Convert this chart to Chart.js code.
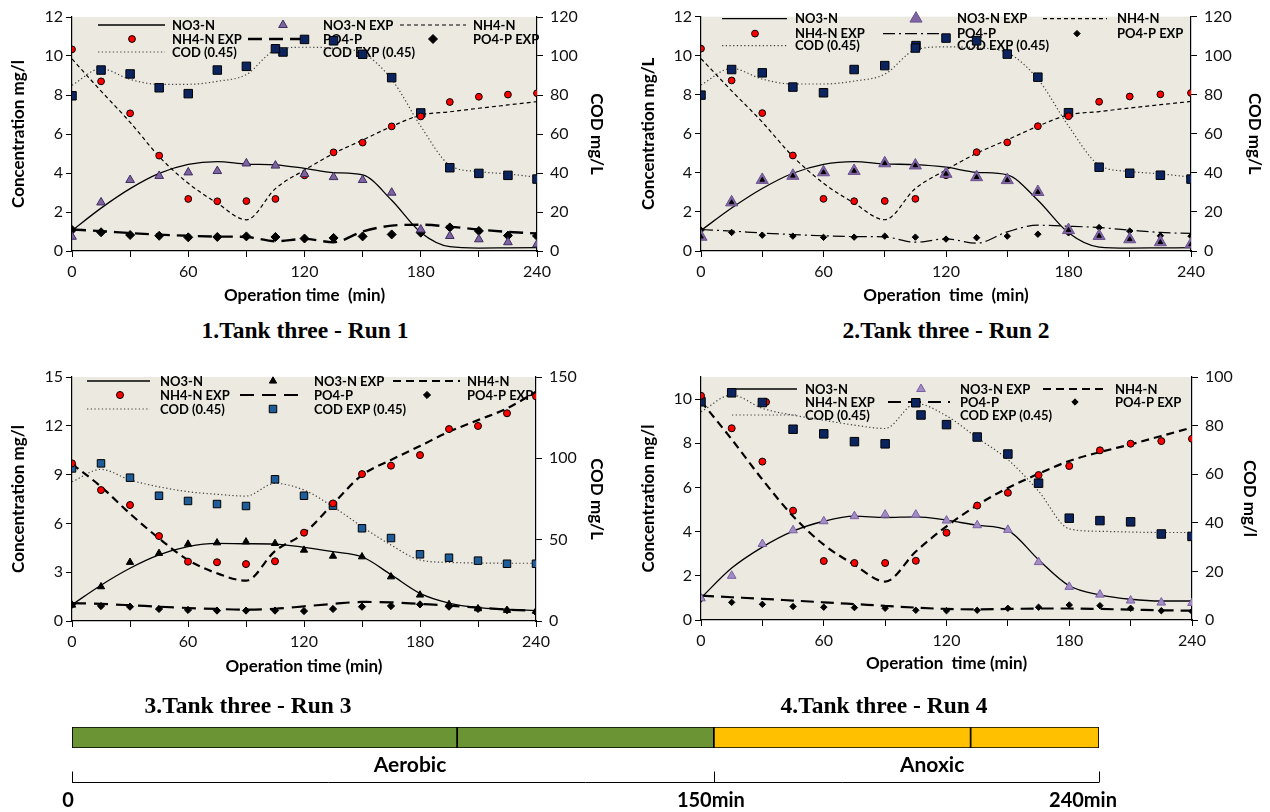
<!DOCTYPE html>
<html>
<head>
<meta charset="utf-8">
<script src="https://cdn.jsdelivr.net/npm/chart.js@4.4.0/dist/chart.umd.min.js"></script>
<style>
  body { margin: 0; background: #fff; width: 1270px; height: 812px; position: relative; overflow: hidden; }
  .box { position: absolute; }
  .cap { position: absolute; width: 400px; text-align: center; font: bold 23.5px "Liberation Serif", serif; color: #000; line-height: 26px; }
</style>
</head>
<body>
<div class="box" style="left:0;top:0"><canvas id="run1" width="620" height="315"></canvas></div>
<div class="box" style="left:630px;top:0"><canvas id="run2" width="640" height="315"></canvas></div>
<div class="box" style="left:0;top:360px"><canvas id="run3" width="620" height="320"></canvas></div>
<div class="box" style="left:630px;top:360px"><canvas id="run4" width="640" height="320"></canvas></div>
<div class="box" style="left:0;top:715px"><canvas id="phases" width="1270" height="97"></canvas></div>

<div class="cap" style="left:105px;top:317px">1.Tank three - Run 1</div>
<div class="cap" style="left:746px;top:317px">2.Tank three - Run 2</div>
<div class="cap" style="left:48px;top:692px">3.Tank three - Run 3</div>
<div class="cap" style="left:684px;top:692px">4.Tank three - Run 4</div>

<script>
// sampling times (min)
const timeMin = [0, 15, 30, 45, 60, 75, 90, 105, 120, 135, 150, 165, 180, 195, 210, 225, 240];

// Run 1 - measured
const run1NO3Exp = [0.73, 2.49, 3.64, 3.85, 4.03, 4.10, 4.49, 4.38, 3.95, 3.79, 3.64, 2.99, 1.10, 0.77, 0.60, 0.45, 0.34];
const run1NH4Exp = [10.34, 8.70, 7.06, 4.89, 2.67, 2.55, 2.56, 2.67, 3.88, 5.06, 5.56, 6.39, 6.90, 7.64, 7.91, 8.02, 8.09];
const run1PO4Exp = [1.08, 0.96, 0.82, 0.78, 0.70, 0.72, 0.75, 0.72, 0.64, 0.67, 0.75, 0.85, 0.94, 1.21, 1.03, 0.79, 0.77];
const run1CODExp = [79.6, 92.8, 90.8, 83.7, 80.7, 92.8, 94.7, 103.7, 108.5, 107.8, 100.9, 88.9, 70.8, 42.7, 39.8, 38.8, 36.9];
// Run 1 - model
const run1NO3 = [1.05, 2.2, 3.2, 3.98, 4.44, 4.58, 4.46, 4.42, 4.24, 4.02, 3.9, 2.6, 0.95, 0.22, 0.15, 0.16, 0.17];
const run1NH4 = [9.85, 8.2, 6.6, 4.84, 3.47, 2.45, 1.6, 3.2, 4.15, 5.0, 5.69, 6.39, 6.97, 7.14, 7.32, 7.49, 7.66];
const run1PO4 = [1.1, 1.02, 0.92, 0.84, 0.78, 0.74, 0.72, 0.5, 0.62, 0.45, 1.0, 1.3, 1.35, 1.25, 1.1, 0.98, 0.9];
const run1COD = [85, 93.5, 88, 85.5, 85.5, 87, 90.5, 103, 104.5, 104, 101.5, 88, 64, 44, 40.7, 39.5, 37.8];

// Run 2 - measured
const run2NO3Exp = [0.73, 2.49, 3.64, 3.85, 4.03, 4.10, 4.49, 4.38, 3.95, 3.78, 3.63, 3.02, 1.07, 0.77, 0.60, 0.45, 0.34];
const run2NH4Exp = [10.36, 8.73, 7.06, 4.89, 2.67, 2.55, 2.56, 2.67, 3.88, 5.06, 5.56, 6.39, 6.90, 7.64, 7.91, 8.02, 8.09];
const run2PO4Exp = [1.07, 0.95, 0.81, 0.76, 0.70, 0.71, 0.76, 0.71, 0.61, 0.68, 0.76, 0.86, 0.93, 1.20, 1.02, 0.78, 0.76];
const run2CODExp = [79.8, 92.9, 91.2, 83.9, 81.0, 92.9, 94.9, 103.9, 109.0, 107.6, 100.8, 89.0, 70.8, 42.9, 39.8, 38.8, 36.8];
// Run 2 - model
const run2NO3 = [1.05, 2.2, 3.2, 3.98, 4.44, 4.58, 4.46, 4.42, 4.29, 4.03, 3.9, 2.6, 0.93, 0.2, 0.15, 0.16, 0.17];
const run2NH4 = [9.85, 8.2, 6.6, 4.84, 3.47, 2.45, 1.6, 3.2, 4.15, 5.0, 5.69, 6.39, 6.97, 7.14, 7.32, 7.49, 7.66];
const run2PO4 = [1.1, 1.02, 0.92, 0.84, 0.78, 0.74, 0.72, 0.45, 0.62, 0.4, 0.98, 1.32, 1.27, 1.2, 1.07, 0.95, 0.9];
const run2COD = [85, 93.5, 88, 85.5, 85.5, 87, 90.5, 103, 104.5, 104, 101.5, 88, 64, 44, 40.7, 39.5, 37.8];

// Run 3 - measured
const run3NO3Exp = [0.98, 2.11, 3.61, 4.16, 4.73, 4.81, 4.87, 4.77, 4.36, 3.99, 3.95, 2.72, 1.6, 1.02, 0.76, 0.66, 0.6];
const run3NH4Exp = [9.69, 8.05, 7.13, 5.22, 3.65, 3.61, 3.50, 3.67, 5.43, 7.23, 9.03, 9.55, 10.2, 11.8, 11.99, 12.77, 13.81];
const run3PO4Exp = [1.0, 0.92, 0.88, 0.74, 0.68, 0.64, 0.64, 0.64, 0.61, 0.74, 0.88, 0.92, 1.02, 0.88, 0.74, 0.66, 0.53];
const run3CODExp = [93.8, 96.9, 88.1, 77.0, 73.8, 71.9, 70.7, 87.1, 77.0, 70.9, 57.0, 51.0, 41.0, 38.9, 37.1, 35.2, 35.2];
// Run 3 - model
const run3NO3 = [1.0, 2.2, 3.24, 4.06, 4.57, 4.77, 4.75, 4.73, 4.53, 4.26, 3.95, 2.85, 1.7, 1.1, 0.82, 0.72, 0.64];
const run3NH4 = [9.65, 8.26, 6.6, 5.08, 3.75, 2.93, 2.48, 4.3, 5.39, 7.2, 8.97, 9.9, 10.76, 11.63, 12.35, 13.07, 14.09];
const run3PO4 = [1.1, 1.05, 0.97, 0.88, 0.8, 0.74, 0.7, 0.75, 0.9, 1.05, 1.17, 1.15, 1.05, 0.95, 0.82, 0.7, 0.62];
const run3COD = [85.6, 93.2, 86.7, 82.5, 79.5, 77.9, 76.8, 84.6, 80.5, 70.3, 58, 46.7, 37.5, 36, 35.7, 35.5, 35.5];

// Run 4 - measured
const run4NO3Exp = [0.98, 2.0, 3.44, 4.06, 4.47, 4.70, 4.77, 4.77, 4.5, 4.29, 4.08, 2.62, 1.5, 1.15, 0.88, 0.79, 0.77];
const run4NH4Exp = [10.15, 8.68, 7.17, 4.95, 2.67, 2.58, 2.58, 2.68, 3.95, 5.18, 5.76, 6.56, 6.97, 7.68, 7.98, 8.1, 8.2];
const run4PO4Exp = [0.95, 0.8, 0.71, 0.61, 0.58, 0.56, 0.53, 0.44, 0.42, 0.44, 0.53, 0.58, 0.68, 0.65, 0.53, 0.42, 0.39];
const run4CODExp = [89.8, 93.5, 89.5, 78.5, 76.6, 73.4, 72.5, 89.4, 80.4, 75.3, 68.3, 56.3, 41.9, 40.9, 40.4, 35.4, 34.4];
// Run 4 - model
const run4NO3 = [1.0, 2.35, 3.3, 4.02, 4.47, 4.7, 4.64, 4.67, 4.52, 4.29, 4.06, 2.73, 1.55, 1.14, 0.94, 0.86, 0.86];
const run4NH4 = [9.9, 8.18, 6.36, 4.7, 3.41, 2.5, 1.74, 3.1, 4.24, 5.2, 5.98, 6.62, 7.2, 7.6, 7.95, 8.33, 8.71];
const run4PO4 = [1.1, 1.03, 0.96, 0.88, 0.8, 0.72, 0.64, 0.56, 0.5, 0.48, 0.5, 0.52, 0.52, 0.5, 0.47, 0.44, 0.42];
const run4COD = [85.7, 92.6, 87.1, 84.3, 82.2, 80.2, 78.8, 89.1, 84, 75, 66, 53, 37.5, 36.5, 36.2, 36, 36];

// operating phases (min)
const phaseNames = ['Aerobic', 'Aerobic', 'Anoxic', 'Anoxic'];
const phaseStart = [0, 90, 150, 210];
const phaseEnd = [90, 150, 210, 240];
const phaseMarks = [0, 150, 240];
const phaseMarkLabels = ['0', '150min', '240min'];

Chart.defaults.font.family = 'Lato';
Chart.defaults.color = '#111';

const pts = vals => vals.map((y, i) => ({ x: timeMin[i], y }));

const plotBg = {
  id: 'plotBg',
  beforeDraw(chart) {
    const { ctx, chartArea: a } = chart;
    ctx.save();
    ctx.fillStyle = '#ECEAE0';
    ctx.fillRect(a.left, a.top, a.right - a.left, a.bottom - a.top);
    ctx.restore();
  }
};

// legend drawn inside the plot, three columns like the original
const boxLegend = {
  id: 'boxLegend',
  beforeDatasetsDraw(chart, args, o) {
    const { ctx, chartArea: a } = chart;
    ctx.save();
    o.items.forEach(it => {
      const ds = chart.data.datasets.find(d => d.label === it.label);
      const col = o.cols[it.col];
      const y = a.top + o.rows[it.row];
      if (it.line) {
        ctx.save();
        ctx.strokeStyle = ds.borderColor;
        ctx.lineWidth = ds.borderWidth;
        ctx.setLineDash(ds.borderDash || []);
        ctx.beginPath();
        ctx.moveTo(a.left + col[0], y);
        ctx.lineTo(a.left + col[1], y);
        ctx.stroke();
        ctx.restore();
      } else {
        ctx.save();
        ctx.fillStyle = ds.pointBackgroundColor;
        ctx.strokeStyle = ds.pointBorderColor;
        ctx.lineWidth = ds.pointBorderWidth;
        Chart.helpers.drawPoint(ctx, { pointStyle: ds.pointStyle, radius: ds.pointRadius, rotation: 0, borderWidth: ds.pointBorderWidth }, a.left + col[2], y);
        ctx.restore();
      }
      ctx.fillStyle = '#000';
      ctx.font = 'bold 13px Lato';
      ctx.textBaseline = 'middle';
      ctx.fillText(it.label, a.left + col[3], y + 0.5);
    });
    ctx.restore();
  }
};

const legendItems = [
  { label: 'NO3-N', row: 0, col: 0, line: true },
  { label: 'NO3-N EXP', row: 0, col: 1 },
  { label: 'NH4-N', row: 0, col: 2, line: true },
  { label: 'NH4-N EXP', row: 1, col: 0 },
  { label: 'PO4-P', row: 1, col: 1, line: true },
  { label: 'PO4-P EXP', row: 1, col: 2 },
  { label: 'COD (0.45)', row: 2, col: 0, line: true },
  { label: 'COD EXP (0.45)', row: 2, col: 1 }
];

function marker(label, vals, axis, style, r, fill, edge, order) {
  return {
    label, data: pts(vals), yAxisID: axis, showLine: false, order: order === undefined ? 0 : order,
    pointStyle: style, pointRadius: r, pointBackgroundColor: fill, pointBorderColor: edge, pointBorderWidth: 1,
    pointHoverRadius: r
  };
}

function curve(label, vals, axis, color, width, dash) {
  return {
    label, data: pts(vals), yAxisID: axis, order: 2,
    borderColor: color, borderWidth: width, borderDash: dash, pointRadius: 0,
    cubicInterpolationMode: 'monotone', fill: false
  };
}

function yAxis(pos, min, max, step, width, title, pad, tickPad) {
  return {
    position: pos, min, max,
    ticks: { stepSize: step, font: { size: 16 }, padding: tickPad, color: '#111' },
    grid: { drawOnChartArea: false, color: '#000', tickLength: 6 },
    border: { color: '#000', width: 1.2 },
    title: { display: true, text: title, color: '#000', font: { size: 17, weight: 'bold' }, padding: { top: pad, bottom: 0 } },
    afterFit: s => { s.width = width; }
  };
}

function xAxis(height, title, pad) {
  return {
    type: 'linear', min: 0, max: 240,
    ticks: { stepSize: 30, autoSkip: false, maxRotation: 0, font: { size: 16 }, padding: 5, color: '#111',
      callback: v => (v % 60 === 0 ? v : '') },
    grid: { drawOnChartArea: false, color: '#000', tickLength: 6 },
    border: { color: '#000', width: 1.2 },
    title: { display: true, text: title, color: '#000', font: { size: 17, weight: 'bold' }, padding: { top: 0, bottom: pad } },
    afterFit: s => { s.height = height; }
  };
}

function drawRun(id, datasets, g) {
  const yLeft = yAxis('left', 0, g.yMax, g.yStep, g.leftW, g.yTitle, g.leftPad, 3);
  if (g.yTicks) yLeft.afterBuildTicks = s => { s.ticks = g.yTicks.map(v => ({ value: v })); };
  new Chart(document.getElementById(id), {
    type: 'line',
    data: { datasets },
    options: {
      responsive: false, animation: false, events: [],
      layout: { padding: { top: g.top, left: 0, right: 0, bottom: 0 } },
      scales: {
        x: xAxis(g.xH, g.xTitle, g.xPad),
        y: yLeft,
        y1: yAxis('right', 0, g.codMax, g.codStep, g.rightW, g.codTitle, g.rightPad, 7)
      },
      plugins: {
        legend: { display: false }, tooltip: { enabled: false },
        boxLegend: { items: legendItems, rows: g.rows, cols: g.cols }
      }
    },
    plugins: [plotBg, boxLegend]
  });
}

// Run 1
drawRun('run1', [
  marker('NO3-N EXP', run1NO3Exp, 'y', 'triangle', 5, '#7F63A1', '#3B2F5E'),
  marker('NH4-N EXP', run1NH4Exp, 'y', 'circle', 3.4, '#FF0000', '#000'),
  marker('PO4-P EXP', run1PO4Exp, 'y', 'rectRot', 4.5, '#000', '#000'),
  marker('COD EXP (0.45)', run1CODExp, 'y1', 'rect', 6, '#0B2460', '#000'),
  curve('NO3-N', run1NO3, 'y', '#000', 1.3, []),
  curve('NH4-N', run1NH4, 'y', '#000', 1.2, [4, 3]),
  curve('PO4-P', run1PO4, 'y', '#000', 2.4, [14, 7]),
  curve('COD (0.45)', run1COD, 'y1', '#444', 1.2, [1.3, 2.4])
], { top: 17, leftW: 72, rightW: 83, xH: 64, yMax: 12, yStep: 2, codMax: 120, codStep: 20,
  yTitle: 'Concentration mg/l', codTitle: 'COD mg/L', xTitle: 'Operation time  (min)',
  leftPad: 8, rightPad: 13, xPad: 9, rows: [8, 22, 35],
  cols: [[26, 93, 60, 100], [176, 236, 211, 251], [328, 394, 361, 401]] });

// Run 2
drawRun('run2', [
  marker('NO3-N EXP core', run2NO3Exp, 'y', 'triangle', 2.6, '#000', '#000', -1),
  marker('NO3-N EXP', run2NO3Exp, 'y', 'triangle', 7, '#8064A2', '#6A5290'),
  marker('NH4-N EXP', run2NH4Exp, 'y', 'circle', 3.4, '#FF0000', '#000'),
  marker('PO4-P EXP', run2PO4Exp, 'y', 'rectRot', 3.2, '#000', '#000'),
  marker('COD EXP (0.45)', run2CODExp, 'y1', 'rect', 6, '#0B2460', '#000'),
  curve('NO3-N', run2NO3, 'y', '#000', 1.3, []),
  curve('NH4-N', run2NH4, 'y', '#000', 1.2, [4, 3]),
  curve('PO4-P', run2PO4, 'y', '#000', 1.2, [12, 4, 2, 4]),
  curve('COD (0.45)', run2COD, 'y1', '#444', 1.2, [1.3, 2.4])
], { top: 15, leftW: 71, rightW: 79, xH: 64, yMax: 12, yStep: 2, codMax: 120, codStep: 20,
  yTitle: 'Concentration mg/L', codTitle: 'COD mg/L', xTitle: 'Operation  time  (min)',
  leftPad: 8, rightPad: 5, xPad: 9, rows: [2, 17, 29],
  cols: [[21, 86, 54, 94], [182, 239, 215, 256], [342, 406, 376, 416]] });

// Run 3
drawRun('run3', [
  marker('NO3-N EXP', run3NO3Exp, 'y', 'triangle', 4.2, '#000', '#000'),
  marker('NH4-N EXP', run3NH4Exp, 'y', 'circle', 3.5, '#FF0000', '#000'),
  marker('PO4-P EXP', run3PO4Exp, 'y', 'rectRot', 3.6, '#000', '#000'),
  marker('COD EXP (0.45)', run3CODExp, 'y1', 'rect', 5.3, '#1F5C9A', '#000'),
  curve('NO3-N', run3NO3, 'y', '#000', 1.3, []),
  curve('NH4-N', run3NH4, 'y', '#000', 2.2, [8, 5]),
  curve('PO4-P', run3PO4, 'y', '#000', 2.2, [14, 8]),
  curve('COD (0.45)', run3COD, 'y1', '#444', 1.2, [1.3, 2.4])
], { top: 17, leftW: 72, rightW: 84, xH: 59, yMax: 15, yStep: 3, codMax: 150, codStep: 50,
  yTitle: 'Concentration mg/l', codTitle: 'COD mg/L', xTitle: 'Operation time (min)',
  leftPad: 8, rightPad: 13, xPad: 3, rows: [4, 18, 32],
  cols: [[15, 78, 48, 88], [168, 228, 201, 242], [321, 388, 355, 395]] });

// Run 4
drawRun('run4', [
  marker('NO3-N EXP', run4NO3Exp, 'y', 'triangle', 5, '#A18DC4', '#7A5FA3'),
  marker('NH4-N EXP', run4NH4Exp, 'y', 'circle', 3.5, '#FF0000', '#000'),
  marker('PO4-P EXP', run4PO4Exp, 'y', 'rectRot', 3.2, '#000', '#000'),
  marker('COD EXP (0.45)', run4CODExp, 'y1', 'rect', 6, '#0B2460', '#000'),
  curve('NO3-N', run4NO3, 'y', '#000', 1.3, []),
  curve('NH4-N', run4NH4, 'y', '#000', 2.2, [8, 5]),
  curve('PO4-P', run4PO4, 'y', '#000', 2.2, [13, 7]),
  curve('COD (0.45)', run4COD, 'y1', '#444', 1.2, [1.3, 2.4])
], { top: 17, leftW: 71, rightW: 78, xH: 60, yMax: 11, yStep: 2, yTicks: [0, 2, 4, 6, 8, 10], codMax: 100, codStep: 20,
  yTitle: 'Concentration mg/l', codTitle: 'COD mg/l', xTitle: 'Operation  time (min)',
  leftPad: 8, rightPad: 10, xPad: 6, rows: [12, 25, 38],
  cols: [[31, 96, 65, 104], [187, 249, 220, 259], [342, 406, 374, 414]] });

// phase bar with its time bracket
const phaseColors = { Aerobic: '#6B9535', Anoxic: '#FFC000' };
const phaseScale = {
  id: 'phaseScale',
  afterDraw(chart, args, o) {
    const { ctx, chartArea: a, scales: { x } } = chart;
    const yl = a.bottom + 34.5;
    ctx.save();
    ctx.strokeStyle = '#000';
    ctx.lineWidth = 1;
    ctx.beginPath();
    ctx.moveTo(x.getPixelForValue(phaseMarks[0]), yl);
    ctx.lineTo(x.getPixelForValue(phaseMarks[phaseMarks.length - 1]), yl);
    phaseMarks.forEach(t => {
      const px = Math.round(x.getPixelForValue(t)) + 0.5;
      ctx.moveTo(px, yl);
      ctx.lineTo(px, yl - 11);
    });
    ctx.stroke();
    ctx.fillStyle = '#000';
    ctx.textAlign = 'center';
    ctx.textBaseline = 'middle';
    ctx.font = 'bold 21px Lato';
    o.labels.forEach((s, i) => ctx.fillText(s, x.getPixelForValue(o.labelAt[i]), a.bottom + 17));
    ctx.font = 'bold 20px Lato';
    phaseMarks.forEach((t, i) => ctx.fillText(phaseMarkLabels[i], x.getPixelForValue(t) + o.shift[i], a.bottom + 53));
    ctx.restore();
  }
};

new Chart(document.getElementById('phases'), {
  type: 'bar',
  data: {
    labels: ['phase'],
    datasets: phaseNames.map((n, i) => ({
      label: n, data: [[phaseStart[i], phaseEnd[i]]], grouped: false,
      backgroundColor: phaseColors[n], borderColor: '#000', borderWidth: 1.2, borderSkipped: false,
      barPercentage: 1, categoryPercentage: 1
    }))
  },
  options: {
    indexAxis: 'y', responsive: false, animation: false, events: [],
    layout: { padding: { left: 72, right: 171, top: 12, bottom: 64 } },
    scales: { x: { type: 'linear', min: 0, max: 240, display: false }, y: { display: false } },
    plugins: {
      legend: { display: false }, tooltip: { enabled: false },
      phaseScale: { labels: ['Aerobic', 'Anoxic'], labelAt: [79, 201], shift: [-4, -3, -16] }
    }
  },
  plugins: [phaseScale]
});
</script>
</body>
</html>
